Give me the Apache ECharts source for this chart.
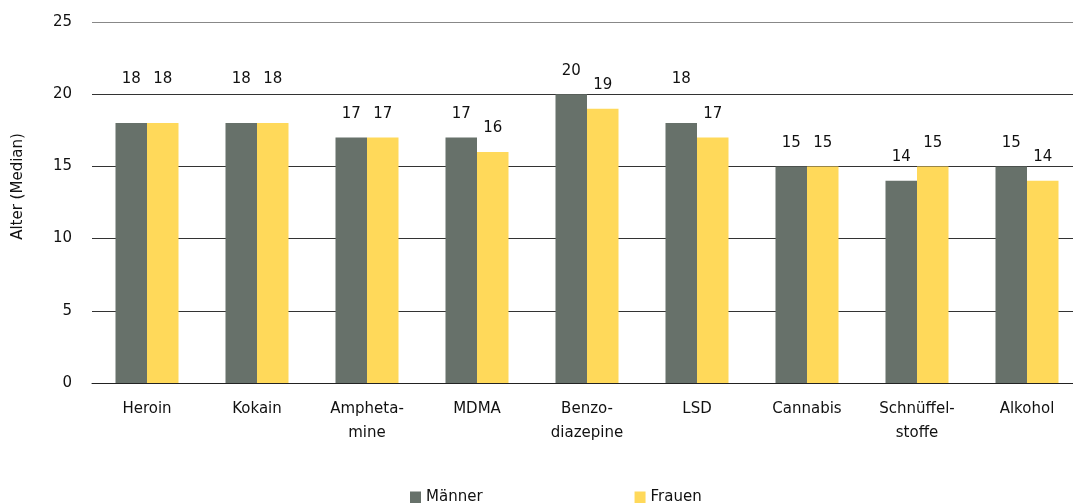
<!DOCTYPE html>
<html>
<head>
<meta charset="utf-8">
<script src="https://cdn.jsdelivr.net/npm/echarts@6/dist/echarts.min.js"></script>
<style>html,body{margin:0;padding:0;background:#fff}#c{width:1073px;height:503px}</style>
</head>
<body>
<div id="c"></div>
<script>
const categories = ['Heroin', 'Kokain', 'Ampheta-\nmine', 'MDMA', 'Benzo-\ndiazepine', 'LSD', 'Cannabis', 'Schnüffel-\nstoffe', 'Alkohol'];
const maenner = [18, 18, 17, 17, 20, 18, 15, 14, 15];
const frauen  = [18, 18, 17, 16, 19, 17, 15, 15, 14];
const yTicks = [0, 5, 10, 15, 20, 25];

const FONT = 'DejaVu Sans';
function withLabels(arr) {
  return arr.map(v => ({ value: v, label: { distance: v === 18 ? 36 : 16 } }));
}
const chart = echarts.init(document.getElementById('c'));
chart.setOption({
  animation: false,
  textStyle: { fontFamily: FONT },
  grid: { left: 92, right: -9, top: 22, bottom: 120, containLabel: false, outerBoundsMode: 'none' },
  legend: {
    left: 405, top: 485, itemWidth: 11, itemHeight: 12, itemGap: 152,
    icon: 'rect',
    textStyle: { fontFamily: FONT, fontSize: 15, color: '#111' },
    data: ['Männer', 'Frauen']
  },
  xAxis: {
    type: 'category', data: categories,
    axisTick: { show: false },
    axisLine: { show: true, lineStyle: { color: '#222', width: 1 } },
    axisLabel: { interval: 0, fontFamily: FONT, fontSize: 15, color: '#111', lineHeight: 24, margin: 14 }
  },
  yAxis: {
    type: 'value', min: 0, max: 25, interval: 5,
    name: 'Alter (Median)', nameLocation: 'middle', nameGap: 66,
    nameTextStyle: { fontFamily: FONT, fontSize: 15, color: '#111', padding: [0, 0, 0, 32] },
    axisLine: { show: false }, axisTick: { show: false },
    axisLabel: { fontFamily: FONT, fontSize: 15, color: '#111', margin: 20,
      formatter: v => yTicks.includes(v) ? String(v) : '' },
    splitLine: { show: true, lineStyle: { color: ['#333', '#333', '#333', '#333', '#333', '#888'], width: 1 } }
  },
  series: [
    { name: 'Männer', type: 'bar', data: withLabels(maenner), barWidth: 31.5, barGap: '0%',
      itemStyle: { color: '#67716a' },
      label: { show: true, position: 'top', fontFamily: FONT, fontSize: 15, color: '#111' } },
    { name: 'Frauen', type: 'bar', data: withLabels(frauen), barWidth: 31.5,
      itemStyle: { color: '#ffd95a' },
      label: { show: true, position: 'top', fontFamily: FONT, fontSize: 15, color: '#111' } }
  ]
});
</script>
</body>
</html>
